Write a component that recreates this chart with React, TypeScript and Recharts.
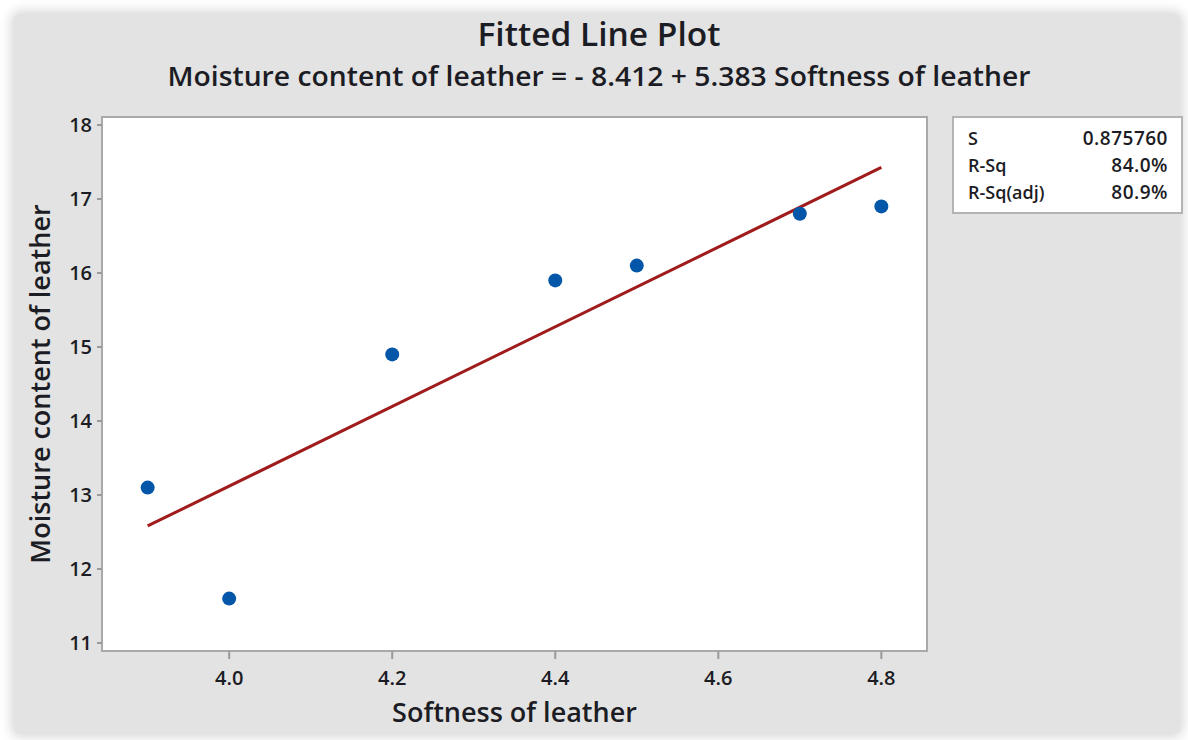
import React from "react";
import {
  ScatterChart,
  Scatter,
  XAxis,
  YAxis,
  ReferenceArea,
} from "recharts";

// Observations: softness (x) and moisture content (y) of leather samples
const softness = [3.9, 4.0, 4.2, 4.4, 4.5, 4.7, 4.8];
const moisture = [13.1, 11.6, 14.9, 15.9, 16.1, 16.8, 16.9];

// Fitted regression: moisture = intercept + slope * softness
const intercept = -8.412;
const slope = 5.383;

const xTicks = [4.0, 4.2, 4.4, 4.6, 4.8];
const yTicks = [11, 12, 13, 14, 15, 16, 17, 18];
const xDomain = [3.844, 4.856];
const yDomain = [10.892, 18.108];

const statLabels = ["S", "R-Sq", "R-Sq(adj)"];
const statValues = ["0.875760", "84.0%", "80.9%"];

const points = softness.map((x, i) => ({ x, y: moisture[i] }));
const xMin = Math.min(...softness);
const xMax = Math.max(...softness);
const fitLine = [
  { x: xMin, y: intercept + slope * xMin },
  { x: xMax, y: intercept + slope * xMax },
];

const FONT = "'Open Sans', 'Noto Sans', sans-serif";
const TEXT = "#1c1c24";

const Dot = (props: any) => {
  const { cx, cy } = props;
  if (cx == null || cy == null) return null;
  return <circle cx={cx} cy={cy} r={7} fill="#0457a8" />;
};

const NoShape = () => null;

export default function App() {
  return (
    <div
      style={{
        position: "absolute",
        left: 0,
        top: 0,
        width: 1188,
        height: 740,
        background: "#ffffff",
        overflow: "hidden",
        fontFamily: FONT,
      }}
    >
      <div
        style={{
          position: "absolute",
          left: 14,
          top: 14,
          width: 1166,
          height: 720,
          background: "#e3e3e3",
          borderRadius: 6,
          boxShadow: "0 0 12px 3px rgba(0,0,0,0.16)",
        }}
      />
      <div style={{ position: "absolute", left: 0, top: 0 }}>
        <ScatterChart
          width={1188}
          height={740}
          margin={{ top: 117, right: 261, bottom: 49, left: 0 }}
        >
          <ReferenceArea
            x1={xDomain[0]}
            x2={xDomain[1]}
            y1={yDomain[0]}
            y2={yDomain[1]}
            fill="#ffffff"
            fillOpacity={1}
            stroke="#a9a9a9"
            strokeWidth={2}
            ifOverflow="visible"
          />
          <XAxis
            type="number"
            dataKey="x"
            domain={xDomain}
            ticks={xTicks}
            tickFormatter={(v: number) => v.toFixed(1)}
            allowDataOverflow
            height={40}
            axisLine={false}
            tickSize={8}
            tickMargin={12}
            tickLine={{ stroke: "#9a9a9a", strokeWidth: 2 }}
            tick={{ fill: TEXT, fontSize: 20, fontWeight: 600, fontFamily: FONT }}
            label={{
              value: "Softness of leather",
              position: "bottom",
              offset: 12,
              style: { fill: TEXT, fontSize: 27, fontWeight: 600, fontFamily: FONT },
            }}
          />
          <YAxis
            type="number"
            dataKey="y"
            domain={yDomain}
            ticks={yTicks}
            allowDataOverflow
            width={102}
            axisLine={false}
            tickSize={5}
            tickMargin={5}
            tickLine={{ stroke: "#9a9a9a", strokeWidth: 2 }}
            tick={{ fill: TEXT, fontSize: 20, fontWeight: 600, fontFamily: FONT }}
            label={{
              value: "Moisture content of leather",
              angle: -90,
              position: "insideLeft",
              offset: 40,
              style: {
                fill: TEXT,
                fontSize: 27,
                fontWeight: 600,
                fontFamily: FONT,
                textAnchor: "middle",
              },
            }}
          />
          <Scatter
            data={fitLine}
            line={{ stroke: "#a01c1c", strokeWidth: 3 }}
            shape={NoShape}
            isAnimationActive={false}
          />
          <Scatter data={points} shape={Dot} isAnimationActive={false} />
        </ScatterChart>
      </div>
      <svg
        width={1188}
        height={740}
        style={{ position: "absolute", left: 0, top: 0, pointerEvents: "none" }}
      >
        <text
          x={599}
          y={46}
          textAnchor="middle"
          fontSize={32}
          fontWeight={600}
          fill={TEXT}
          fontFamily={FONT}
          textLength={243}
          lengthAdjust="spacingAndGlyphs"
        >
          Fitted Line Plot
        </text>
        <text
          x={599}
          y={86}
          textAnchor="middle"
          fontSize={27}
          fontWeight={600}
          fill={TEXT}
          fontFamily={FONT}
          textLength={863}
          lengthAdjust="spacingAndGlyphs"
        >
          Moisture content of leather = - 8.412 + 5.383 Softness of leather
        </text>
        <rect
          x={953}
          y={117}
          width={229}
          height={96}
          fill="#ffffff"
          stroke="#b3b3b3"
          strokeWidth={2}
        />
        {statLabels.map((label, i) => (
          <g key={label}>
            <text
              x={968}
              y={145 + i * 27}
              fontSize={18}
              fontWeight={600}
              fill={TEXT}
              fontFamily={FONT}
            >
              {label}
            </text>
            <text
              x={1168}
              y={145 + i * 27}
              textAnchor="end"
              fontSize={19}
              fontWeight={600}
              fill={TEXT}
              fontFamily={FONT}
              letterSpacing={0.5}
            >
              {statValues[i]}
            </text>
          </g>
        ))}
      </svg>
    </div>
  );
}
